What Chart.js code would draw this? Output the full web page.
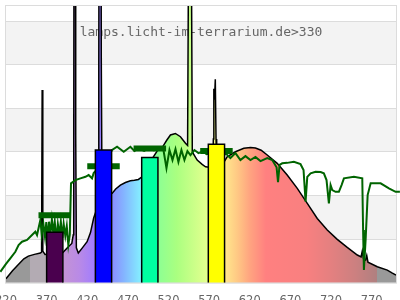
<!DOCTYPE html>
<html>
<head>
<meta charset="UTF-8" />
<script src="https://cdn.jsdelivr.net/npm/chart.js"></script>
<style>
  body { margin: 0; background: #fff; }
  #wrap { width: 400px; height: 300px; }
</style>
</head>
<body>
<div id="wrap"><canvas id="chart"></canvas></div>
<script>
// wavelength axis (nm) and relative value axis
const xTicks = [320, 370, 420, 470, 520, 570, 620, 670, 720, 770];
const yTicks = [0, 20, 40, 60, 80, 100, 120];
const watermark = 'lamps.licht-im-terrarium.de>330';

// lamp spectrum [nm, value]
const spectrum = [
  [320, 1.8], [328, 5.5], [337, 9], [342, 11], [347.5, 12.2], [355, 13], [362.3, 13.6],
  [363.8, 14], [364.5, 88.4], [365.3, 14.5], [368, 13], [375, 13.2], [382, 13.5], [390, 13.8],
  [396.7, 16.5], [401, 18], [402.8, 22], [403.4, 72], [404, 260], [405.2, 260], [405.8, 68],
  [406.6, 16], [409, 13.6], [414, 16], [419.8, 18.8], [424, 23], [427.9, 29.7], [432, 34],
  [433.5, 38], [434.2, 101], [435, 260], [436.5, 260], [437.3, 101], [438.2, 40], [442, 40],
  [450.6, 41], [455, 43], [460.8, 44.8], [467, 46], [473.1, 46.8], [478, 47], [483, 47.4],
  [487, 48.5], [493, 52], [500, 57], [507, 61], [513, 62.5], [518, 65.5], [522.4, 67.8],
  [528.5, 68.5], [534.7, 67], [540.9, 64], [543.5, 63], [544.3, 124], [545.3, 300], [546.7, 300],
  [548.5, 124], [549.3, 60], [555.3, 56.3], [561.4, 54.3], [565.6, 53.2], [570, 53], [574.5, 54],
  [575.2, 66], [575.8, 89], [576.6, 84], [577.6, 93.4], [578.5, 66], [579.3, 58], [584, 56],
  [589.3, 56], [592.2, 57.8], [602.4, 60.1], [612.7, 61.7], [620.9, 62], [627, 61.8], [634, 60.8],
  [641.5, 58.6], [653.8, 54.8], [666.1, 49.4], [678.5, 43.3], [690.8, 36.4], [703.1, 29.5],
  [715.4, 24.2], [727.7, 19.9], [740, 16.2], [752.4, 12.7], [757, 11.8], [758.5, 14.5], [760, 11],
  [762.6, 10.4], [764, 12.5], [765.5, 9.4], [777, 7.3], [789.3, 5.8], [795, 4.5], [800, 3.5],
];

// reference curve (green) [nm, value]
const reference = [
  [313, 5.0], [320, 8.6], [325.3, 11.2], [331.5, 14.2], [335.5, 17.3], [339.7, 18.8], [345.9, 19.6],
  [352, 21.9], [356.1, 23.4], [358.2, 21.9], [362.3, 28.8], [364, 22], [366, 27], [368, 21],
  [369.6, 27.8], [371.5, 20], [373, 28], [374.6, 21.9], [376.5, 29], [378.3, 22.5], [380, 28],
  [382, 19.6], [383.8, 27], [385.7, 22.1], [387.5, 28], [389.4, 20.5], [391, 27], [393, 21.5],
  [394.8, 26], [396.7, 17.3], [398.5, 22],
  [400, 45.6], [405.4, 47.1], [411.6, 47.9], [417.8, 48.6], [421.7, 49.4], [425.9, 47.9], [427.9, 50.3],
  [432, 52], [440, 55], [446, 58], [450.6, 60.9], [456.7, 62.4], [464.9, 60.1], [473.1, 62.4],
  [478, 60.5], [483.3, 61.7], [490, 60.5], [497, 62], [502, 60.8], [507.6, 61.8], [513.8, 60.9],
  [517.5, 52.6], [521.2, 60.9], [524.9, 56.3], [528.6, 61.3], [532.2, 55.4], [535.9, 60.9],
  [539.6, 56.3], [543.3, 60.4], [547, 58.6], [551.9, 60.9], [556.9, 59.5], [563, 60.4], [566.7, 59],
  [575, 59.5], [585, 59], [591.3, 59], [596.2, 57.2], [602.4, 59.5], [608.5, 56.3], [614.7, 58.1],
  [620.9, 56.3], [627, 57.7], [633.2, 55.8], [641.5, 57.2], [647.7, 56.3], [653, 53], [654.8, 46.2],
  [656.7, 54.1], [660, 54.8], [666.1, 55], [674.3, 55.5], [682.5, 54.4], [686.2, 51.7], [688.7, 37.2],
  [690.8, 48.6], [694.9, 50.2], [701, 50.9], [707.2, 50.8], [711.2, 50.2], [714.5, 47.1], [717.4, 36.4],
  [719.5, 44.8], [721.6, 42.5], [725.6, 41.7], [729.7, 41.7], [733, 44.8], [735.9, 47.9], [748.2, 48.6],
  [758.5, 47.9], [759.5, 24.2], [760.5, 5.8], [762.6, 19.6], [765.1, 40.2], [768.8, 45.6],
  [781.1, 45.6], [791.3, 43.3], [799.5, 41.7], [804.8, 41.7],
];

// receptor bars and their averaged reference level
const barRanges = [[370, 390], [430, 450], [487, 507], [569, 589]];
const barValues = [23.2, 60.9, 57.5, 63.5];
const barColors = ['#4a004e', '#0000ff', '#00ffa0', '#ffff00'];
const segRanges = [[360, 400], [420, 460], [477, 517], [559, 599]];
const segValues = [31.0, 53.5, 61.6, 60.4];

// fill colour along the wavelength axis
const gradStops = [320, 349.5, 350, 369.9, 390, 410, 430, 450, 465, 485, 507, 530, 560, 570, 590, 605, 620, 640, 690, 720, 750, 776, 777, 800];
const gradColors = ['#999999', '#999999', '#b3abb3', '#b3abb3', '#c493d4', '#b98ae6', '#a07cff', '#8a8cff', '#84b4ff', '#84ecff',
  '#8cff94', '#aaff80', '#d8ff8c', '#e8ff90', '#ffe68c', '#ffc884', '#ffa480', '#ff8080', '#f88080', '#e48080',
  '#cc8080', '#b08080', '#999999', '#999999'];

const toPoints = arr => arr.map(([x, y]) => ({ x, y }));

function spectrumFill(context) {
  const chart = context.chart;
  if (!chart.chartArea) return '#ccc';
  const xs = chart.scales.x;
  const x0 = xs.getPixelForValue(320);
  const x1 = xs.getPixelForValue(800);
  const g = chart.ctx.createLinearGradient(x0, 0, x1, 0);
  gradStops.forEach((nm, i) => g.addColorStop((nm - 320) / 480, gradColors[i]));
  return g;
}

const backdrop = {
  id: 'backdrop',
  beforeDraw(chart) {
    const { ctx, chartArea: a, scales: { y } } = chart;
    ctx.save();
    ctx.fillStyle = '#fff';
    ctx.fillRect(0, 0, chart.width, chart.height);
    ctx.fillStyle = '#f3f3f3';
    for (let i = 1; i < yTicks.length; i += 2) {
      const top = i + 1 < yTicks.length ? y.getPixelForValue(yTicks[i + 1]) : a.top;
      const bottom = y.getPixelForValue(yTicks[i]);
      ctx.fillRect(a.left, top, a.right - a.left, bottom - top);
    }
    ctx.restore();
  },
  beforeDatasetsDraw(chart) {
    const { ctx, chartArea: a } = chart;
    ctx.save();
    ctx.strokeStyle = '#dcdcdc';
    ctx.lineWidth = 1;
    ctx.strokeRect(a.left - 0.5, a.top - 0.5, a.right - a.left + 1, a.bottom - a.top + 1);
    ctx.fillStyle = '#666';
    ctx.font = '13px "DejaVu Sans Mono"';
    ctx.textAlign = 'center';
    ctx.textBaseline = 'alphabetic';
    ctx.fillText(watermark, (a.left + a.right) / 2, a.top + 30);
    ctx.restore();
  },
};

const datasets = [];

barRanges.forEach((r, i) => {
  datasets.push({
    data: [{ x: r[0], y: 0 }, { x: r[0], y: barValues[i] }, { x: r[1], y: barValues[i] }, { x: r[1], y: 0 }],
    borderColor: '#000',
    borderWidth: 1.5,
    backgroundColor: barColors[i],
    fill: 'origin',
    pointRadius: 0,
    order: 0,
  });
});

segRanges.forEach((r, i) => {
  datasets.push({
    data: [{ x: r[0], y: segValues[i] }, { x: r[1], y: segValues[i] }],
    borderColor: '#006400',
    borderWidth: 6,
    borderCapStyle: 'butt',
    fill: false,
    pointRadius: 0,
    order: 1,
  });
});

datasets.push({
  data: toPoints(reference),
  borderColor: '#006400',
  borderWidth: 2,
  fill: false,
  pointRadius: 0,
  clip: false,
  order: 2,
});

datasets.push({
  data: toPoints(spectrum),
  borderColor: '#000',
  borderWidth: 1.5,
  backgroundColor: spectrumFill,
  fill: 'origin',
  pointRadius: 0,
  order: 3,
});

new Chart(document.getElementById('chart'), {
  type: 'line',
  data: { datasets },
  options: {
    responsive: true,
    maintainAspectRatio: false,
    animation: false,
    events: [],
    layout: { padding: { left: 6, right: 4, top: 6, bottom: 0 } },
    plugins: {
      legend: { display: false },
      tooltip: { enabled: false },
    },
    elements: { line: { tension: 0 } },
    scales: {
      x: {
        type: 'linear',
        min: 320,
        max: 800,
        grid: { display: false },
        border: { display: false },
        ticks: {
          color: '#666',
          font: { family: '"DejaVu Sans"', size: 11.5 },
          padding: 3,
          maxRotation: 0,
          autoSkip: false,
        },
        afterBuildTicks: scale => { scale.ticks = xTicks.map(v => ({ value: v })); },
        afterFit: scale => {
          scale.paddingLeft = 0;
          scale.paddingRight = 0;
          scale.height = 17.3;
        },
      },
      y: {
        type: 'linear',
        min: 0,
        max: 127,
        grid: { color: '#dcdcdc', lineWidth: 1, drawTicks: false },
        border: { display: false },
        ticks: { display: false },
        afterBuildTicks: scale => { scale.ticks = yTicks.map(v => ({ value: v })); },
      },
    },
  },
  plugins: [backdrop],
});
</script>
</body>
</html>
